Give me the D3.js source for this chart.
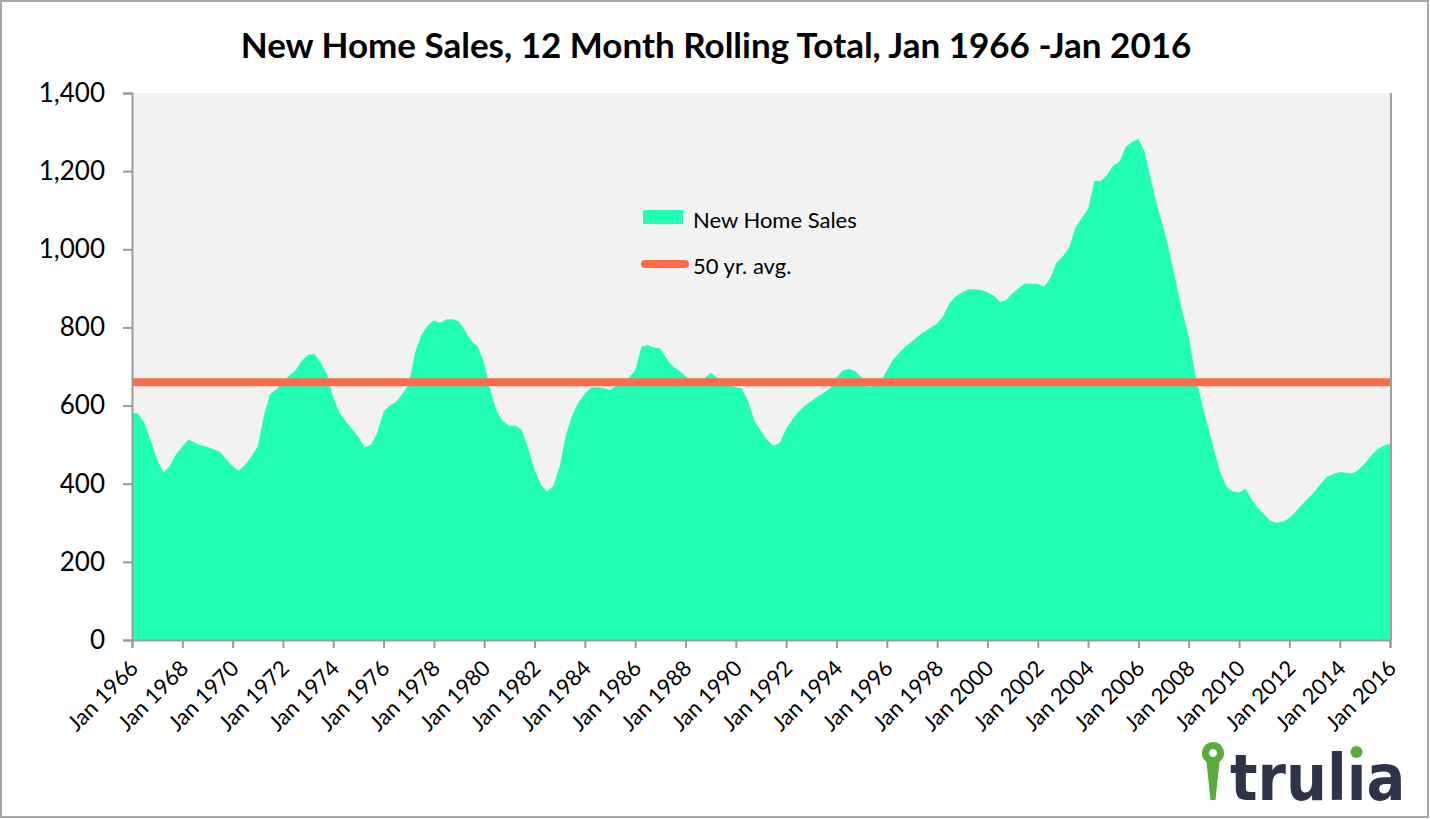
<!DOCTYPE html>
<html>
<head>
<meta charset="utf-8">
<script src="https://cdn.jsdelivr.net/npm/d3@7"></script>
<style>
  body { margin: 0; background: #fff; }
  svg { display: block; font-family: Lato, "Open Sans", sans-serif; }
</style>
</head>
<body>
<div id="chart"></div>
<script>
// quarterly readings (Jan, Apr, Jul, Oct), thousands of units, 12 month rolling total
var sales1960s = [581, 580, 555, 510,  462, 428, 445, 475,  495, 513, 505, 498,  494, 488, 482, 462];
var sales1970s = [445, 434, 448, 470,  495, 575, 630, 642,  660, 677, 690, 715,  730, 732, 710, 680,
                  620, 582, 560, 540,  520, 493, 500, 530,  585, 600, 610, 630,  655, 735, 780, 805,
                  818, 812, 821, 821,  815, 790, 765, 751];
var sales1980s = [708, 640, 585, 560,  548, 549, 537, 490,  435, 398, 380, 395,  445, 525, 575, 610,
                  630, 647, 647, 645,  640, 650, 661, 672,  690, 750, 755, 748,  747, 720, 700, 690,
                  675, 662, 665, 670,  684, 672, 660, 652];
var sales1990s = [647, 644, 610, 560,  535, 512, 497, 505,  540, 565, 585, 600,  612, 623, 633, 645,
                  672, 690, 694, 688,  672, 648, 650, 660,  690, 718, 735, 752,  764, 778, 789, 800,
                  810, 830, 862, 880,  890, 898, 898, 896];
var sales2000s = [890, 882, 865, 870,  888, 900, 913, 912,  911, 904, 925, 966,  982, 1005, 1055, 1080,
                  1103, 1175, 1175, 1190,  1215, 1224, 1262, 1275,  1282, 1250, 1180, 1110,
                  1055, 990, 915, 840,  778, 683, 612, 550,  488, 430, 393, 380];
var sales2010s = [377, 388, 360, 338,  322, 305, 300, 303,  312, 328, 347, 363,  380, 400, 418, 425,
                  430, 428, 426, 435,  452, 472, 488, 497,  502];
var avg50yr = 660;

var startDate = new Date(1966, 0, 1);
var endDate = new Date(2016, 0, 1);
var yTicks = [0, 200, 400, 600, 800, 1000, 1200, 1400];
var title = "New Home Sales, 12 Month Rolling Total, Jan 1966 -Jan 2016";
var legendLabels = ["New Home Sales", "50 yr. avg."];

var sales = [].concat(sales1960s, sales1970s, sales1980s, sales1990s, sales2000s, sales2010s);
var data = sales.map(function(v, i) { return { date: d3.timeMonth.offset(startDate, i * 3), value: v }; });

var width = 1430, height = 819;
var margin = { top: 93, right: 40, bottom: 179, left: 132 };

var svg = d3.select("#chart").append("svg")
    .attr("width", width)
    .attr("height", height);

// outer frame
svg.append("rect")
    .attr("x", 1).attr("y", 1)
    .attr("width", width - 3).attr("height", height - 3)
    .attr("fill", "#fff").attr("stroke", "#a6a6a6").attr("stroke-width", 2);

var x = d3.scaleTime().domain([startDate, endDate]).range([margin.left, width - margin.right]);
var y = d3.scaleLinear().domain([0, 1400]).range([height - margin.bottom, margin.top]);

// plot background
svg.append("rect")
    .attr("x", x.range()[0]).attr("y", y(1400))
    .attr("width", x.range()[1] - x.range()[0]).attr("height", y(0) - y(1400))
    .attr("fill", "#f2f2f2");

var area = d3.area()
    .x(function(d) { return x(d.date); })
    .y0(y(0))
    .y1(function(d) { return y(d.value); });

svg.append("path")
    .datum(data)
    .attr("d", area)
    .attr("fill", "#21ffb6");

// right edge of the plot
svg.append("line")
    .attr("x1", x.range()[1] + 1).attr("x2", x.range()[1] + 1)
    .attr("y1", y(1400)).attr("y2", y(0))
    .attr("stroke", "#a0a0a0").attr("stroke-width", 2);

// 50 yr average
svg.append("line")
    .attr("x1", x.range()[0]).attr("x2", x.range()[1])
    .attr("y1", y(avg50yr)).attr("y2", y(avg50yr))
    .attr("stroke", "#ff6b48").attr("stroke-width", 8);

// axes
var yAxis = svg.append("g")
    .attr("transform", "translate(" + x.range()[0] + ",0)")
    .call(d3.axisLeft(y).tickValues(yTicks).tickFormat(d3.format(",")).tickSize(9).tickPadding(18));

var xAxis = svg.append("g")
    .attr("transform", "translate(0," + y(0) + ")")
    .call(d3.axisBottom(x).ticks(d3.timeYear.every(2)).tickFormat(d3.timeFormat("Jan %Y")).tickSize(8));

[yAxis, xAxis].forEach(function(g) {
    g.select(".domain").attr("stroke", "#9a9a9a").attr("stroke-width", 2);
    g.selectAll(".tick line").attr("stroke", "#9a9a9a").attr("stroke-width", 2);
});

yAxis.selectAll("text")
    .attr("fill", "#000")
    .style("font-size", "26px")
    .style("font-family", "Lato, 'Open Sans', sans-serif");

xAxis.selectAll("text")
    .attr("fill", "#000")
    .style("font-size", "22px")
    .style("font-family", "Lato, 'Open Sans', sans-serif")
    .style("text-anchor", "end")
    .attr("y", 0)
    .attr("dx", "-16")
    .attr("dy", "26")
    .attr("transform", "rotate(-45)");

// title
svg.append("text")
    .attr("x", 716).attr("y", 58)
    .attr("text-anchor", "middle")
    .style("font-size", "35px")
    .style("font-weight", "bold")
    .text(title);

// legend
var legend = svg.append("g").attr("transform", "translate(643,0)");
legend.append("rect")
    .attr("x", 0).attr("y", 210).attr("width", 40).attr("height", 14)
    .attr("fill", "#21ffb6");
legend.append("line")
    .attr("x1", 2).attr("x2", 42).attr("y1", 264).attr("y2", 264)
    .attr("stroke", "#ff6b48").attr("stroke-width", 8).attr("stroke-linecap", "round");
legend.selectAll("text.leg")
    .data(legendLabels)
    .enter().append("text")
    .attr("class", "leg")
    .attr("x", 50)
    .attr("y", function(d, i) { return 228 + i * 46; })
    .style("font-size", "22px")
    .text(function(d) { return d; });

// trulia mark
var logo = svg.append("g");
logo.append("path")
    .attr("d", "M1213,742 a11,11 0 0 1 6.5,19.8 L1215.5,800 L1210.5,800 L1206.5,761.8 A11,11 0 0 1 1213,742 Z M1213,749 a4,4 0 1 0 0.01,0 Z")
    .attr("fill", "#5aab3d")
    .attr("fill-rule", "evenodd");
var logoFont = "'DejaVu Sans Condensed', 'DejaVu Sans', sans-serif";
var logoText = logo.append("text")
    .attr("x", 1230).attr("y", 800)
    .style("font-family", logoFont)
    .style("font-size", "64px")
    .style("font-weight", "bold")
    .attr("fill", "#2e3447");
logoText.append("tspan").text("trul");
logoText.append("tspan").text("\u0131");
logoText.append("tspan").text("a");
// green dot over the dotless i
var head = logoText.node().getSubStringLength(0, 4);
var iw = logoText.node().getSubStringLength(4, 1);
logo.append("circle")
    .attr("cx", 1230 + head + iw / 2).attr("cy", 752).attr("r", 6)
    .attr("fill", "#5aab3d");
</script>
</body>
</html>
